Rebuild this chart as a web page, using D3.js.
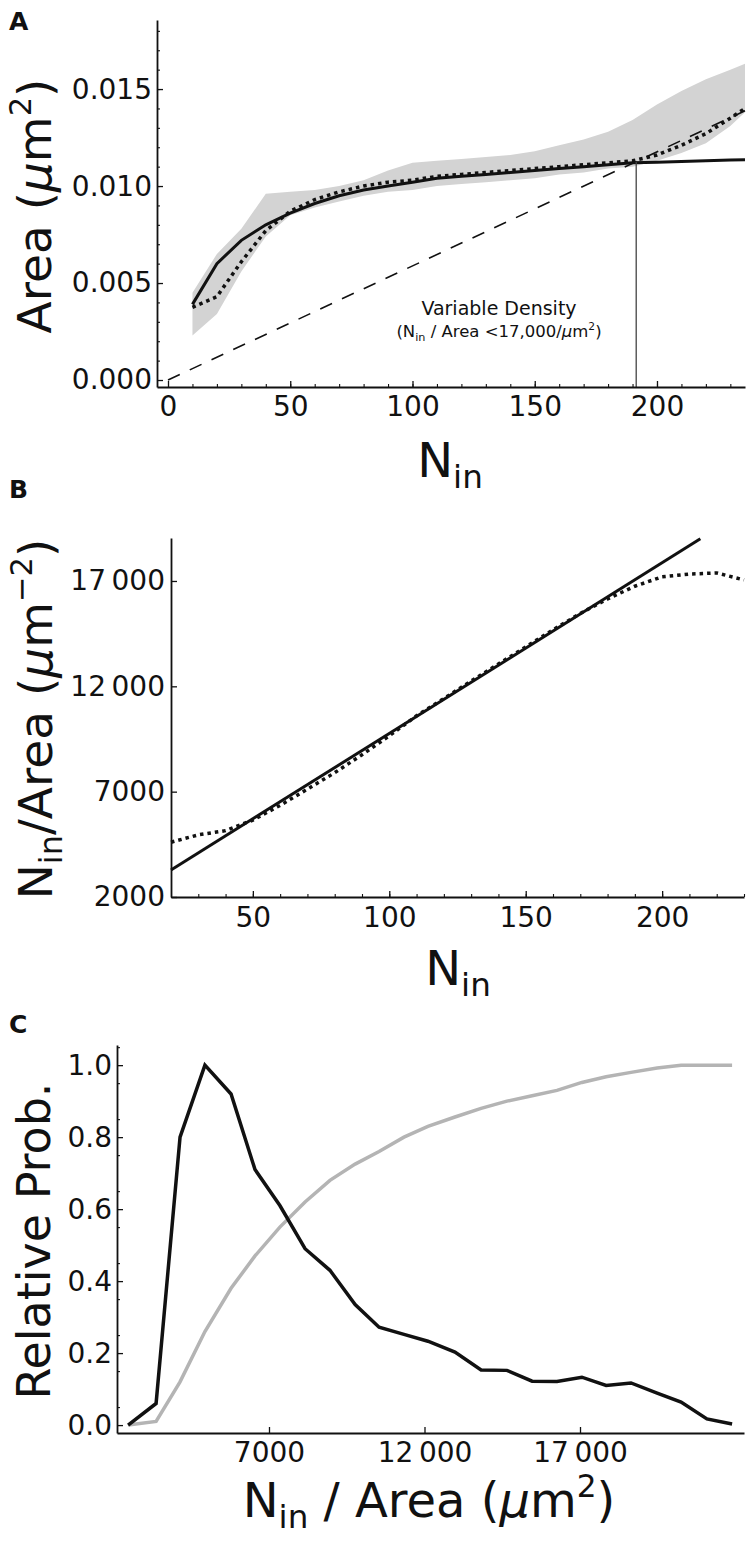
<!DOCTYPE html>
<html>
<head>
<meta charset="utf-8">
<script src="https://cdn.jsdelivr.net/npm/d3@7"></script>
<style>
body { margin: 0; background: #fff; }
text { font-family: "DejaVu Sans", sans-serif; fill: #111; }
</style>
</head>
<body>
<script>
// ---- panel A data: area vs N_in
var nA = [10, 20, 30, 40, 50, 60, 70, 80, 90, 100, 110, 120, 130, 140, 150, 160, 170, 180, 190, 200, 210, 220, 230, 236];
var fitA = [0.0039, 0.0060, 0.0072, 0.0080, 0.0086, 0.0091, 0.0095, 0.0098, 0.0100, 0.0102, 0.0104, 0.0105, 0.0106, 0.0107, 0.0108, 0.0109, 0.0110, 0.0111, 0.0112, 0.01123, 0.01127, 0.01131, 0.01134, 0.01136];
var meanA = [0.00375, 0.0043, 0.0061, 0.0077, 0.0087, 0.0093, 0.0097, 0.0100, 0.0102, 0.0103, 0.0105, 0.0106, 0.0107, 0.0108, 0.0109, 0.0110, 0.0111, 0.0112, 0.0113, 0.0116, 0.0121, 0.0127, 0.0135, 0.0140];
var upperA = [0.0045, 0.0065, 0.0078, 0.0096, 0.0097, 0.0098, 0.0100, 0.0103, 0.0108, 0.0112, 0.0113, 0.0114, 0.0115, 0.0116, 0.0118, 0.0121, 0.0124, 0.0128, 0.0134, 0.0142, 0.0149, 0.0155, 0.0160, 0.0163];
var lowerA = [0.0023, 0.0034, 0.0056, 0.0074, 0.0085, 0.0089, 0.0092, 0.0095, 0.0097, 0.0098, 0.0100, 0.0101, 0.0102, 0.0103, 0.0104, 0.0106, 0.0107, 0.0109, 0.0110, 0.0113, 0.0117, 0.0122, 0.0131, 0.0138];
var densLineN = [0, 236];
var densLineArea = [0, 0.01388];
var cutN = 191.5, cutArea = 0.01125;

// ---- panel B data: density vs N_in
var nB = [20, 30, 40, 50, 60, 70, 80, 90, 100, 110, 120, 130, 140, 150, 160, 170, 180, 190, 200, 210, 220, 230];
var meanB = [4600, 4950, 5150, 5650, 6350, 7120, 7900, 8750, 9650, 10600, 11420, 12250, 13060, 13870, 14680, 15460, 16150, 16750, 17200, 17330, 17380, 17050];
var fitNB = [20, 214];
var fitB = [3280, 19000];

// ---- panel C data: distribution of density
var densC = [2470, 3370, 4140, 4940, 5780, 6550, 7350, 8160, 8960, 9770, 10540, 11340, 12110, 12980, 13820, 14650, 15460, 16260, 17060, 17840, 18640, 19480, 20250, 21080, 21890];
var probC = [0.0, 0.06, 0.80, 1.0, 0.92, 0.71, 0.61, 0.49, 0.43, 0.335, 0.272, 0.252, 0.233, 0.203, 0.153, 0.152, 0.122, 0.121, 0.133, 0.110, 0.117, 0.089, 0.064, 0.017, 0.003];
var cumC = [0.0, 0.01, 0.12, 0.26, 0.38, 0.47, 0.55, 0.62, 0.68, 0.725, 0.76, 0.80, 0.83, 0.856, 0.88, 0.90, 0.915, 0.93, 0.952, 0.968, 0.98, 0.992, 1.0, 1.0, 1.0];

var W = 750, H = 1544;
var svg = d3.select("body").append("svg").attr("width", W).attr("height", H);

function styleAxis(g) {
    g.attr("font-size", 28).attr("font-family", "DejaVu Sans").attr("color", "#111");
    g.select(".domain").attr("stroke-width", 1.8);
    g.selectAll(".tick line").attr("stroke-width", 1.3);
}

function minorAxis(g) {
    g.select(".domain").remove();
    g.selectAll(".tick line").attr("stroke-width", 1.1).attr("color", "#111");
}

// rich text: parts = [[text, kind]], kind in "", "sub", "sup", "it"
function richText(parent, parts, size) {
    var t = parent.append("text").attr("font-size", size);
    var shift = 0;
    parts.forEach(function (p) {
        var s = t.append("tspan").text(p[0]);
        if (p[1] == "sub") {
            s.attr("font-size", size * 0.68).attr("dy", size * 0.22 - shift);
            shift = size * 0.22;
        } else if (p[1] == "sup") {
            s.attr("font-size", size * 0.65).attr("dy", -size * 0.42 - shift);
            shift = -size * 0.42;
        } else {
            if (shift != 0) s.attr("dy", -shift);
            shift = 0;
            if (p[1] == "it") s.attr("font-style", "italic");
        }
    });
    return t;
}

function panelLabel(txt, x, y) {
    svg.append("text").attr("x", x).attr("y", y)
        .attr("font-size", 25).attr("font-weight", "bold").text(txt);
}

// ================= Panel A
var xA = d3.scaleLinear().domain([-4.5, 236]).range([157, 745]);
var yA = d3.scaleLinear().domain([-0.00036, 0.01856]).range([387, 20]);

var gA = svg.append("g");
var band = nA.map(function (n, i) { return {n: n, lo: lowerA[i], hi: upperA[i]}; });

gA.append("path")
    .datum(band)
    .attr("d", d3.area().x(d => xA(d.n)).y0(d => yA(d.lo)).y1(d => yA(d.hi)))
    .attr("fill", "#d3d3d3");

var lineA = d3.line().x(d => xA(d[0])).y(d => yA(d[1]));

gA.append("path")
    .datum(nA.map((n, i) => [n, fitA[i]]))
    .attr("d", lineA)
    .attr("fill", "none").attr("stroke", "#111").attr("stroke-width", 3);

gA.append("path")
    .datum(nA.map((n, i) => [n, meanA[i]]))
    .attr("d", lineA)
    .attr("fill", "none").attr("stroke", "#111").attr("stroke-width", 3.5)
    .attr("stroke-dasharray", "3.5,4");

gA.append("path")
    .datum(densLineN.map((n, i) => [n, densLineArea[i]]))
    .attr("d", lineA)
    .attr("fill", "none").attr("stroke", "#111").attr("stroke-width", 1.6)
    .attr("stroke-dasharray", "13,11");

gA.append("line")
    .attr("x1", xA(cutN)).attr("x2", xA(cutN))
    .attr("y1", yA(cutArea)).attr("y2", yA.range()[0])
    .attr("stroke", "#444").attr("stroke-width", 1.3);

gA.append("text").attr("x", 499).attr("y", 315)
    .attr("font-size", 19).attr("text-anchor", "middle").text("Variable Density");
richText(gA, [["(N", ""], ["in", "sub"], [" / Area <17,000/", ""], ["\u03bc", "it"], ["m", ""], ["2", "sup"], [")", ""]], 16.5)
    .attr("x", 499).attr("y", 337).attr("text-anchor", "middle");

gA.append("g").attr("transform", "translate(0," + yA.range()[0] + ")")
    .call(d3.axisBottom(xA).tickValues(d3.range(10, 240, 10)).tickSize(-3).tickFormat(""))
    .call(minorAxis);
gA.append("g").attr("transform", "translate(0," + yA.range()[0] + ")")
    .call(d3.axisBottom(xA).tickValues([0, 50, 100, 150, 200]).tickSize(-6).tickSizeOuter(0).tickPadding(9))
    .call(styleAxis);

gA.append("g").attr("transform", "translate(" + xA.range()[0] + ",0)")
    .call(d3.axisLeft(yA).tickValues(d3.range(1, 19).map(d => d / 1000)).tickSize(-3).tickFormat(""))
    .call(minorAxis);
gA.append("g").attr("transform", "translate(" + xA.range()[0] + ",0)")
    .call(d3.axisLeft(yA).tickValues([0, 0.005, 0.01, 0.015]).tickSize(-6).tickSizeOuter(0).tickPadding(5).tickFormat(d3.format(".3f")))
    .call(styleAxis);

richText(svg, [["N", ""], ["in", "sub"]], 48).attr("x", 450).attr("y", 477).attr("text-anchor", "middle");
richText(svg, [["Area (", ""], ["\u03bc", "it"], ["m", ""], ["2", "sup"], [")", ""]], 47)
    .attr("text-anchor", "middle").attr("transform", "translate(51,206) rotate(-90)");
panelLabel("A", 9, 30);

// ================= Panel B
var xB = d3.scaleLinear().domain([20, 230]).range([171, 744]);
var yB = d3.scaleLinear().domain([2000, 19040]).range([897, 538]);
var gB = svg.append("g");
var lineB = d3.line().x(d => xB(d[0])).y(d => yB(d[1]));

gB.append("path")
    .datum(fitNB.map((n, i) => [n, fitB[i]]))
    .attr("d", lineB)
    .attr("fill", "none").attr("stroke", "#111").attr("stroke-width", 3);

gB.append("path")
    .datum(nB.map((n, i) => [n, meanB[i]]))
    .attr("d", lineB)
    .attr("fill", "none").attr("stroke", "#111").attr("stroke-width", 3.5)
    .attr("stroke-dasharray", "3.5,4");

var thinFmt = function (d) { return d >= 10000 ? Math.floor(d / 1000) + "\u2009" + d3.format("03d")(d % 1000) : String(d); };

gB.append("g").attr("transform", "translate(0," + yB.range()[0] + ")")
    .call(d3.axisBottom(xB).tickValues(d3.range(30, 240, 10)).tickSize(-3).tickFormat(""))
    .call(minorAxis);
gB.append("g").attr("transform", "translate(0," + yB.range()[0] + ")")
    .call(d3.axisBottom(xB).tickValues([50, 100, 150, 200]).tickSize(-6).tickSizeOuter(0).tickPadding(10))
    .call(styleAxis);
gB.append("g").attr("transform", "translate(" + xB.range()[0] + ",0)")
    .call(d3.axisLeft(yB).tickValues([2000, 7000, 12000, 17000]).tickSize(-6).tickSizeOuter(0).tickPadding(6).tickFormat(thinFmt))
    .call(styleAxis);

richText(svg, [["N", ""], ["in", "sub"]], 48).attr("x", 458).attr("y", 985).attr("text-anchor", "middle");
richText(svg, [["N", ""], ["in", "sub"], ["/Area (", ""], ["\u03bc", "it"], ["m", ""], ["\u22122", "sup"], [")", ""]], 47)
    .attr("text-anchor", "middle").attr("transform", "translate(52,719) rotate(-90)");
panelLabel("B", 9, 498);

// ================= Panel C
var xC = d3.scaleLinear().domain([2113, 22273]).range([117, 744]);
var yC = d3.scaleLinear().domain([-0.022, 1.056]).range([1433, 1045]);
var gC = svg.append("g");
var lineC = d3.line().x(d => xC(d[0])).y(d => yC(d[1]));

gC.append("path")
    .datum(densC.map((x, i) => [x, cumC[i]]))
    .attr("d", lineC)
    .attr("fill", "none").attr("stroke", "#b4b4b4").attr("stroke-width", 3.5);

gC.append("path")
    .datum(densC.map((x, i) => [x, probC[i]]))
    .attr("d", lineC)
    .attr("fill", "none").attr("stroke", "#111").attr("stroke-width", 3.5);

gC.append("g").attr("transform", "translate(0," + yC.range()[0] + ")")
    .call(d3.axisBottom(xC).tickValues([7000, 12000, 17000]).tickSize(-6).tickSizeOuter(0).tickPadding(9).tickFormat(thinFmt))
    .call(styleAxis);
gC.append("g").attr("transform", "translate(" + xC.range()[0] + ",0)")
    .call(d3.axisLeft(yC).tickValues(d3.range(1, 22, 2).map(d => d * 0.05)).tickSize(-3).tickFormat(""))
    .call(minorAxis);
gC.append("g").attr("transform", "translate(" + xC.range()[0] + ",0)")
    .call(d3.axisLeft(yC).tickValues([0, 0.2, 0.4, 0.6, 0.8, 1.0]).tickSize(-6).tickSizeOuter(0).tickPadding(5).tickFormat(d3.format(".1f")))
    .call(styleAxis);

richText(svg, [["N", ""], ["in", "sub"], [" / Area (", ""], ["\u03bc", "it"], ["m", ""], ["2", "sup"], [")", ""]], 48)
    .attr("x", 429).attr("y", 1517).attr("text-anchor", "middle");
svg.append("text").attr("font-size", 46).attr("text-anchor", "middle")
    .attr("transform", "translate(50,1241) rotate(-90)").text("Relative Prob.");
panelLabel("C", 9, 1033);
</script>
</body>
</html>
